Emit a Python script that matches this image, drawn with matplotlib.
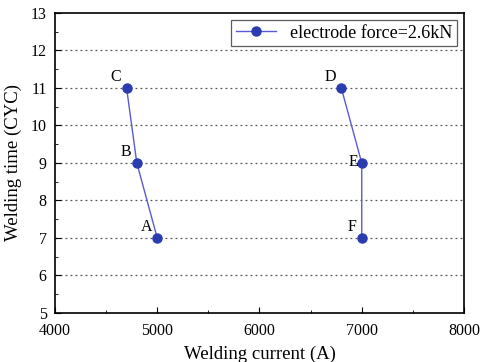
import matplotlib
matplotlib.use("Agg")
import matplotlib.pyplot as plt
from matplotlib.ticker import MultipleLocator

plt.rcParams['font.family'] = ['Liberation Serif', 'DejaVu Serif']

current_left = [4700, 4800, 5000]
time_left = [11, 9, 7]
labels_left = ['C', 'B', 'A']
current_right = [6800, 7000, 7000]
time_right = [11, 9, 7]
labels_right = ['D', 'E', 'F']

fig = plt.figure(figsize=(4.8, 3.62), dpi=100)
ax = fig.add_axes([0.1146, 0.1354, 0.852, 0.829])

line_c = '#5a5ad6'
mk_c = '#2b3bb0'
ax.plot(current_left, time_left, '-o', color=line_c, lw=1, ms=6.5,
        mfc=mk_c, mec=mk_c, label='electrode force=2.6kN')
ax.plot(current_right, time_right, '-o', color=line_c, lw=1, ms=6.5,
        mfc=mk_c, mec=mk_c)

for x, y, t in zip(current_left + current_right, time_left + time_right, labels_left + labels_right):
    if t == 'E':
        ax.text(x - 30, y + 0.02, t, ha='right', va='center', fontsize=11.5)
    else:
        ax.text(x - 50, y + 0.08, t, ha='right', va='bottom', fontsize=11.5)

ax.set_xlim(4000, 8000)
ax.set_ylim(5, 13)
ax.xaxis.set_major_locator(MultipleLocator(1000))
ax.xaxis.set_minor_locator(MultipleLocator(500))
ax.yaxis.set_major_locator(MultipleLocator(1))
ax.yaxis.set_minor_locator(MultipleLocator(0.5))
ax.tick_params(which='both', direction='in', top=False, right=False, labelsize=11.5)
ax.tick_params(axis='x', which='major', pad=7)
ax.tick_params(axis='y', which='major', pad=6)
ax.tick_params(which='major', length=4)
ax.tick_params(which='minor', length=2.5)
for s in ax.spines.values():
    s.set_linewidth(1.2)

for yv in range(6, 13):
    ax.axhline(yv, color='#555555', ls=(0, (1.5, 2.5)), lw=0.9, zorder=0)

ax.set_xlabel('Welding current (A)', fontsize=13.5, labelpad=5)
ax.set_ylabel('Welding time (CYC)', fontsize=13.5, labelpad=6)

leg = ax.legend(loc='upper right', fontsize=13, frameon=True, fancybox=False,
                edgecolor='#333333', borderpad=0.25, handlelength=2.2,
                borderaxespad=0.4)
leg.get_frame().set_linewidth(0.9)

fig.savefig('out.png', dpi=100)
